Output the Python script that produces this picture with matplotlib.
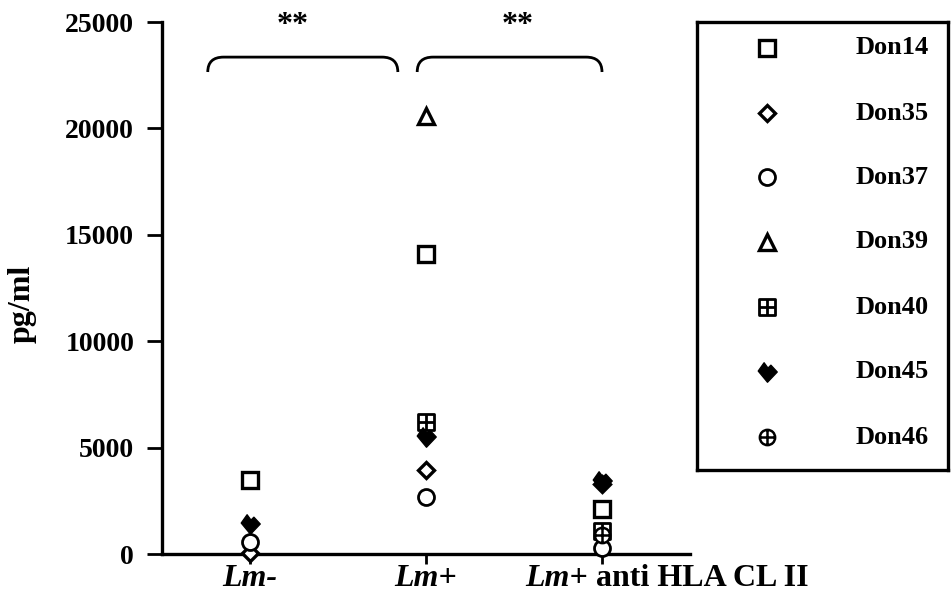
import numpy as np
import matplotlib
matplotlib.use("Agg")
import matplotlib.pyplot as plt
from matplotlib.path import Path
from matplotlib.patches import PathPatch

plt.rcParams['font.family'] = ['Liberation Serif', 'DejaVu Serif']
plt.rcParams['font.weight'] = 'bold'

# ---- data -------------------------------------------------------------
# each condition label as (text, font style) pieces
conditions = [
    [('Lm-', 'italic')],
    [('Lm+', 'italic')],
    [('Lm+', 'italic'), (' anti HLA CL II', 'normal')],
]
donors = ['Don14', 'Don35', 'Don37', 'Don39', 'Don40', 'Don45', 'Don46']
nan = np.nan
don14 = [3500, 14100, 2100]
don35 = [50, 3950, 3300]
don37 = [550, 2700, 300]
don39 = [nan, 20600, nan]
don40 = [nan, 6200, 1100]
don45 = [1400, 5500, 3450]
don46 = [nan, nan, 900]
values = [don14, don35, don37, don39, don40, don45, don46]
yticks = [0, 5000, 10000, 15000, 20000, 25000]
significance = ['**', '**']

# ---- custom marker shapes --------------------------------------------
sq_plus = Path([(-1, -1), (1, -1), (1, 1), (-1, 1), (-1, -1),
                (-1, 0), (1, 0), (0, -1), (0, 1)],
               [Path.MOVETO, Path.LINETO, Path.LINETO, Path.LINETO, Path.CLOSEPOLY,
                Path.MOVETO, Path.LINETO, Path.MOVETO, Path.LINETO])
circ_plus = Path.make_compound_path(
    Path.unit_circle(),
    Path([(-1, 0), (1, 0)], [Path.MOVETO, Path.LINETO]),
    Path([(0, -1), (0, 1)], [Path.MOVETO, Path.LINETO]))
flag = Path([(0, -1), (1, 0.05), (0.35, 0.75), (0.05, 0.45), (-0.35, 1.0),
             (-0.95, 0.15), (0, -1)],
            [Path.MOVETO] + [Path.LINETO] * 5 + [Path.CLOSEPOLY])

styles = [
    dict(marker='s', ms=11, mfc='white', mec='black', mew=2.4),
    dict(marker='D', ms=8, mfc='white', mec='black', mew=2.4),
    dict(marker='o', ms=11.5, mfc='white', mec='black', mew=2.0),
    dict(marker='^', ms=12, mfc='white', mec='black', mew=2.4),
    dict(marker=sq_plus, ms=11, mfc='white', mec='black', mew=2.0),
    dict(marker=flag, ms=14, mfc='black', mec='black', mew=1.0),
    dict(marker=circ_plus, ms=11, mfc='white', mec='black', mew=1.8),
]

W, H = 951, 606
fig = plt.figure(figsize=(W / 100, H / 100), dpi=100)
ax = fig.add_axes([162 / W, 1 - 554 / H, (690 - 162) / W, (554 - 22) / H])

xpos = [1, 2, 3]
for vals, st in zip(values, styles):
    ax.plot(xpos, vals, linestyle='none', clip_on=False, zorder=3, **st)

ax.set_xlim(0.5, 3.5)
ax.set_ylim(0, 25000)
ax.set_yticks(yticks)
ax.set_yticklabels([str(t) for t in yticks], fontsize=20, fontweight='bold')
ax.set_xticks(xpos)
ax.set_xticklabels([])
ax.tick_params(axis='y', direction='out', length=11, width=2, pad=9)
ax.tick_params(axis='x', direction='out', length=7, width=2)
for s in ['top', 'right']:
    ax.spines[s].set_visible(False)
for s in ['left', 'bottom']:
    ax.spines[s].set_linewidth(2.4)
ax.set_ylabel('pg/ml', fontsize=23, fontweight='bold')
ax.yaxis.set_label_coords(-0.237, 0.47)

# category labels, built from styled pieces
label_shift = [0, 0, -77]
for x, pieces, dx in zip(xpos, conditions, label_shift):
    first_text, first_style = pieces[0]
    ha = 'center' if len(pieces) == 1 else 'left'
    prev = ax.annotate(first_text, xy=(x, 0), xycoords=('data', 'axes fraction'),
                       xytext=(dx, -25), textcoords='offset pixels',
                       ha=ha, va='center', fontsize=23, fontweight='bold',
                       fontstyle=first_style, annotation_clip=False)
    for txt, sty in pieces[1:]:
        prev = ax.annotate(txt, xy=(1, 0), xycoords=prev, ha='left', va='bottom',
                           fontsize=23, fontweight='bold', fontstyle=sty,
                           annotation_clip=False)

# significance brackets
def bracket(x0, x1, ytop, yend, label, xlab):
    rx = 0.09
    verts = [(x0, yend), (x0, ytop), (x0 + rx, ytop), (x1 - rx, ytop),
             (x1, ytop), (x1, yend)]
    codes = [Path.MOVETO, Path.CURVE3, Path.CURVE3, Path.LINETO,
             Path.CURVE3, Path.CURVE3]
    ax.add_patch(PathPatch(Path(verts, codes), fill=False, lw=2.0,
                           edgecolor='black', clip_on=False))
    ax.text(xlab, ytop + 1500, label, ha='center', va='center',
            fontsize=23, fontweight='bold', clip_on=False)

bracket(0.76, 1.84, 23350, 22650, significance[0], 1.24)
bracket(1.95, 3.00, 23350, 22650, significance[1], 2.52)

# legend panel
lax = fig.add_axes([697 / W, 1 - 470 / H, (948 - 697) / W, (470 - 22) / H])
lax.set_xlim(0, 1)
lax.set_ylim(470, 22)
lax.set_xticks([])
lax.set_yticks([])
for s in lax.spines.values():
    s.set_linewidth(2.4)
rows = [48, 113, 177, 242, 307, 372, 437]
for name, st, yy in zip(donors, styles, rows):
    lax.plot([0.279], [yy], linestyle='none', **st)
    lax.text(0.63, yy, name, ha='left', va='center', fontsize=19,
             fontweight='bold')

fig.savefig('out.png', dpi=100)
